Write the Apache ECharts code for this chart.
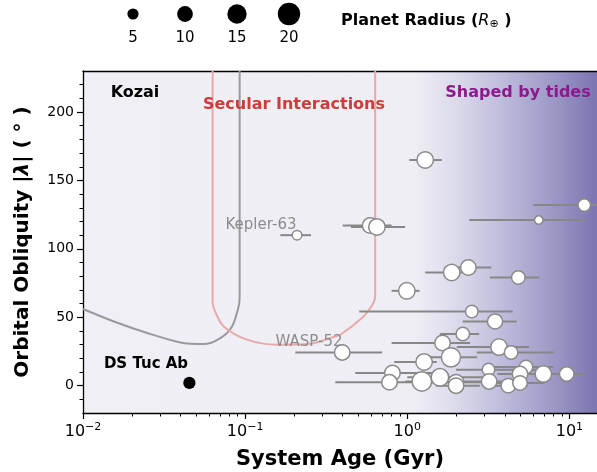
<!DOCTYPE html>
<html>
<head>
<meta charset="utf-8">
<script src="https://cdn.jsdelivr.net/npm/echarts@6/dist/echarts.min.js"></script>
<style>
html,body{margin:0;padding:0;background:#fff;}
#c{width:597px;height:472px;}
</style>
</head>
<body>
<div id="c"></div>
<script>
// ---- data ----
const names  = ['Kepler-63','P3','P4','P5','P6','P7','P8','P9','P10','P11','P12','P13','P14','P15','P16','P17','WASP-52','P19','P20','P21','P22','P23','P24','P25','P26','P26b','P27','P28','P29','P30','P31','P32','P33'];
const ages   = [0.209,1.29,0.59,0.65,12.35,6.47,0.994,1.88,2.38,4.84,2.50,3.48,2.20,1.65,3.68,4.37,0.397,1.86,1.27,5.40,0.81,0.777,1.23,1.59,2.0,2.0,3.17,3.2,4.2,4.96,4.96,6.91,9.63];
const obliq  = [110,165,117,116,132,121,69.3,82.7,86.4,79,54.2,46.9,37.7,31.2,28.2,24.3,24.3,20.7,17.3,13.6,9.3,2.4,3.1,6.1,2.5,0,11.7,3.1,0,8.5,2,8.5,8.5];
const radii  = [3.6,10.9,9.6,10.9,6.3,2.9,10.9,10.9,9.6,7.3,6.3,9.2,7.3,9.6,10.9,7.3,9.6,14.7,10.9,7.3,9.6,9.6,15.2,12.3,9.6,9.6,6.3,9.6,8.4,9.6,8.4,10.9,8.4];
const ageLo  = [0.165,1.03,0.40,0.45,6.0,2.41,0.80,1.29,1.70,3.24,0.506,2.20,1.59,0.80,2.02,2.68,0.204,1.30,0.83,3.0,0.478,0.36,0.97,1.0,1.3,1.5,2.0,1.8,3.0,3.6,3.5,4.5,7.0];
const ageHi  = [0.255,1.63,0.80,0.97,20,12.5,1.19,2.6,3.30,6.52,4.47,4.73,2.78,2.44,5.64,8.04,0.70,2.70,1.52,8.0,1.5,1.6,2.0,3.2,3.2,2.8,6.6,4.5,5.5,7.0,7.0,9.0,12.5];
const dsTuc  = {name:'DS Tuc Ab', age:0.0453, obliq:2, radius:6};

const kozaiAge = [0.01,0.0155,0.0249,0.0399,0.0554,0.0704,0.083,0.0912,0.0925,0.0925];
const kozaiObl = [56,46.9,38.5,31.6,30.4,34.8,43.3,57.9,65.2,230];
const secAge   = [0.063,0.063,0.066,0.0737,0.1027,0.157,0.25,0.335,0.386,0.537,0.619,0.634,0.634];
const secObl   = [230,61,53,43.3,33.6,29.9,30.5,34.8,37.2,50.6,60.4,66,230];

const legendRadii = [5,10,15,20];
const xMajor = [0.01,0.1,1,10];
const xMinor = [];
[0.01,0.1,1,10].forEach(d=>{for(let k=2;k<=9;k++){const v=+(d*k).toPrecision(3); if(v<=14.8) xMinor.push(v);}});
const yMajor = [0,50,100,150,200];
const yMinor = [-10,10,20,30,40,60,70,80,90,110,120,130,140,160,170,180,190,210,220];
const xMin=0.01, xMax=14.8, yMin=-20, yMax=230;

// ---- chart ----
const F = 'DejaVu Sans';
const sizeOf = r => 5*Math.sqrt(r);
const chart = echarts.init(document.getElementById('c'), null, {renderer:'canvas'});

const supRich = {b:{fontFamily:F,fontSize:16,color:'#000'}, s:{fontFamily:F,fontSize:11,color:'#000',verticalAlign:'top',padding:[0,0,9,0]}};
const mainGrid = {left:83,right:0,top:71,bottom:59,outerBoundsMode:'none',containLabel:false};

const option = {
  animation:false,
  backgroundColor:'#fff',
  grid:[
    mainGrid,
    {left:107,width:208,top:4,height:20,outerBoundsMode:'none',containLabel:false},
    Object.assign({}, mainGrid)
  ],
  xAxis:[
    {type:'log',gridIndex:0,min:xMin,max:xMax,logBase:10,position:'bottom',
     axisLine:{show:true,onZero:false,lineStyle:{color:'#000',width:1.3}},
     axisTick:{show:true,customValues:xMajor,length:6,inside:false,lineStyle:{color:'#000',width:1.2}},
     axisLabel:{show:true,customValues:xMajor,margin:9,
       formatter:v=>{const e=Math.round(Math.log10(v)); return '{b|10}{s|'+(e<0?'\u2212'+(-e):e)+'}';},
       rich:supRich},
     splitLine:{show:false},
     name:'System Age (Gyr)',nameLocation:'middle',nameGap:36,
     nameTextStyle:{fontFamily:F,fontSize:21,fontWeight:'bold',color:'#000'}},
    {type:'log',gridIndex:0,min:xMin,max:xMax,logBase:10,position:'top',
     axisLine:{show:true,onZero:false,lineStyle:{color:'#000',width:1.3}},
     axisTick:{show:false},axisLabel:{show:false},splitLine:{show:false}},
    {type:'category',gridIndex:1,data:legendRadii.map(String),show:false},
    {type:'log',gridIndex:2,min:xMin,max:xMax,logBase:10,position:'bottom',
     axisLine:{show:false,onZero:false},
     axisTick:{show:true,customValues:xMinor,length:3.5,lineStyle:{color:'#000',width:1}},
     axisLabel:{show:false},splitLine:{show:false}}
  ],
  yAxis:[
    {type:'value',gridIndex:0,min:yMin,max:yMax,position:'left',
     axisLine:{show:true,onZero:false,lineStyle:{color:'#000',width:1.3}},
     axisTick:{show:true,customValues:yMajor,length:6,lineStyle:{color:'#000',width:1.2}},
     axisLabel:{show:true,customValues:yMajor,fontFamily:F,fontSize:14,color:'#000',margin:9},
     splitLine:{show:false},
     name:'Orbital Obliquity |{i|λ}| ( ° )',nameLocation:'middle',nameGap:50,
     nameTextStyle:{fontFamily:F,fontSize:20,fontWeight:'bold',color:'#000',
       rich:{i:{fontFamily:F,fontSize:20,fontStyle:'italic',fontWeight:'bold',color:'#000'}}}},
    {type:'value',gridIndex:1,min:0,max:1,show:false},
    {type:'value',gridIndex:2,min:yMin,max:yMax,position:'left',
     axisLine:{show:false,onZero:false},
     axisTick:{show:true,customValues:yMinor,length:3.5,lineStyle:{color:'#000',width:1}},
     axisLabel:{show:false},splitLine:{show:false}}
  ],
  series:[
    {type:'scatter',xAxisIndex:0,yAxisIndex:0,data:[],z:0,silent:true,
     markArea:{silent:true,z:0,itemStyle:{opacity:1,
       color:new echarts.graphic.LinearGradient(0,0,1,0,[
         {offset:0,color:'#f1eff6'},{offset:0.64,color:'#f0eef5'},
         {offset:0.72,color:'#dddcec'},{offset:0.8,color:'#c3c2df'},
         {offset:0.9,color:'#a29ec9'},{offset:1,color:'#7b75b1'}])},
       data:[[{coord:[xMin,yMin]},{coord:[xMax,yMax]}]]}},
    {type:'scatter',xAxisIndex:3,yAxisIndex:2,data:[],silent:true},
    {type:'line',name:'kozai',xAxisIndex:0,yAxisIndex:0,showSymbol:false,smooth:0.3,z:2,
     data:kozaiAge.map((a,i)=>[a,kozaiObl[i]]),
     lineStyle:{color:'#9a9a9a',width:2},silent:true},
    {type:'line',name:'secular',xAxisIndex:0,yAxisIndex:0,showSymbol:false,smooth:0.3,z:2,
     data:secAge.map((a,i)=>[a,secObl[i]]),
     lineStyle:{color:'#e9a9a9',width:2},silent:true},
    {type:'custom',name:'errors',xAxisIndex:0,yAxisIndex:0,z:3,silent:true,
     data:ages.map((a,i)=>[ageLo[i],ageHi[i],obliq[i]]),
     renderItem:(params,api)=>{
       const p1=api.coord([api.value(0),api.value(2)]);
       const p2=api.coord([api.value(1),api.value(2)]);
       return {type:'line',shape:{x1:p1[0],y1:p1[1],x2:p2[0],y2:p2[1]},
               style:{stroke:'#878787',lineWidth:2}};
     }},
    {type:'scatter',name:'planets',xAxisIndex:0,yAxisIndex:0,z:4,
     data:ages.map((a,i)=>[a,obliq[i],radii[i]]),
     symbolSize:d=>sizeOf(d[2]),
     itemStyle:{color:'#fff',borderColor:'#8a8a8a',borderWidth:1.5,opacity:1}},
    {type:'scatter',name:'DS Tuc Ab',xAxisIndex:0,yAxisIndex:0,z:4,
     data:[[dsTuc.age,dsTuc.obliq,dsTuc.radius]],
     symbolSize:d=>sizeOf(d[2]),
     itemStyle:{color:'#000',opacity:1}},
    {type:'scatter',name:'legend',xAxisIndex:2,yAxisIndex:1,z:4,
     data:legendRadii.map(r=>[String(r),0.5,r]),
     symbolSize:d=>sizeOf(d[2]),
     itemStyle:{color:'#000',opacity:1},
     label:{show:true,position:'inside',offset:[0,24],formatter:p=>String(p.value[2]),
            fontFamily:F,fontSize:15,color:'#000'}}
  ],
  graphic:{elements:[
    {type:'text',z:100,left:341,top:13,style:{text:'{b|Planet Radius (}{i|R}{s|⊕}{b| )}',
      rich:{b:{fontFamily:F,fontSize:16,fontWeight:'bold',fill:'#000'},
            i:{fontFamily:F,fontSize:16,fontStyle:'italic',fill:'#000'},
            s:{fontFamily:F,fontSize:11,fill:'#000',verticalAlign:'bottom',padding:[7,0,0,0]}}}},
    {type:'text',z:100,x:135,y:93,style:{text:'Kozai',font:'bold 16px "DejaVu Sans"',fill:'#000',align:'center',verticalAlign:'middle'}},
    {type:'text',z:100,x:294,y:105,style:{text:'Secular Interactions',font:'bold 16px "DejaVu Sans"',fill:'#cf3a3a',align:'center',verticalAlign:'middle'}},
    {type:'text',z:100,x:518,y:93,style:{text:'Shaped by tides',font:'bold 16px "DejaVu Sans"',fill:'#8c1a8c',align:'center',verticalAlign:'middle'}},
    {type:'text',z:100,x:261,y:225,style:{text:'Kepler-63',font:'15px "DejaVu Sans"',fill:'#8c8c8c',align:'center',verticalAlign:'middle'}},
    {type:'text',z:100,x:309,y:342,style:{text:'WASP-52',font:'15px "DejaVu Sans"',fill:'#8c8c8c',align:'center',verticalAlign:'middle'}},
    {type:'text',z:100,x:146,y:364,style:{text:'DS Tuc Ab',font:'bold 15px "DejaVu Sans"',fill:'#000',align:'center',verticalAlign:'middle'}}
  ]}
};
chart.setOption(option);
</script>
</body>
</html>
